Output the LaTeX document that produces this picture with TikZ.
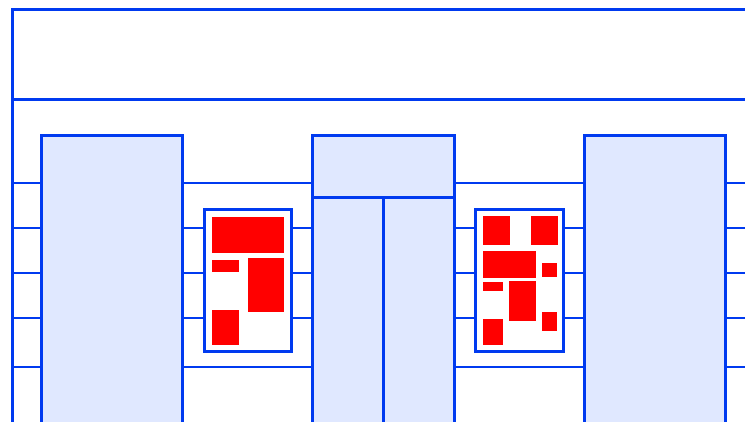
\documentclass[tikz,border=0pt]{standalone}
\definecolor{frameblue}{RGB}{0,58,240}
\definecolor{paleblue}{RGB}{224,232,255}
\definecolor{chipred}{RGB}{255,0,0}
\begin{document}
\begin{tikzpicture}[x=1pt,y=-1pt,
  thickline/.style={draw=frameblue,line width=3.0pt},
  thinline/.style={draw=frameblue,line width=1.8pt},
  column/.style={thickline,fill=paleblue},
  panel/.style={thickline,fill=white},
  chip/.style={fill=chipred,draw=none}]
\useasboundingbox (0,0) rectangle (745,422);
\clip (0,0) rectangle (745,422);
% outer frame
\draw[thickline] (12,440) -- (12,10) -- (760,10);
\draw[thickline] (12,100) -- (760,100);
% horizontal rails
\foreach \y in {183,228,273,318,367}{
  \draw[thinline] (12,\y) -- (760,\y);
}
% columns
\draw[column] (41,440) -- (41,136) -- (182,136) -- (182,440);
\draw[column] (312,440) -- (312,136) -- (454,136) -- (454,440);
\draw[thickline] (312,198) -- (454,198);
\draw[thickline] (383,198) -- (383,440);
\draw[column] (584,440) -- (584,136) -- (725,136) -- (725,440);
% left panel
\draw[panel] (204,210) rectangle (291,352);
\fill[chip] (212,217) rectangle (284,253);
\fill[chip] (212,260) rectangle (239,272);
\fill[chip] (248,258) rectangle (284,312);
\fill[chip] (212,310) rectangle (239,345);
% right panel
\draw[panel] (475,210) rectangle (563,352);
\fill[chip] (483,216) rectangle (510,245);
\fill[chip] (531,216) rectangle (558,245);
\fill[chip] (483,251) rectangle (536,278);
\fill[chip] (542,263) rectangle (557,277);
\fill[chip] (483,282) rectangle (503,291);
\fill[chip] (509,281) rectangle (536,321);
\fill[chip] (542,312) rectangle (557,331);
\fill[chip] (483,319) rectangle (503,345);
\end{tikzpicture}
\end{document}
